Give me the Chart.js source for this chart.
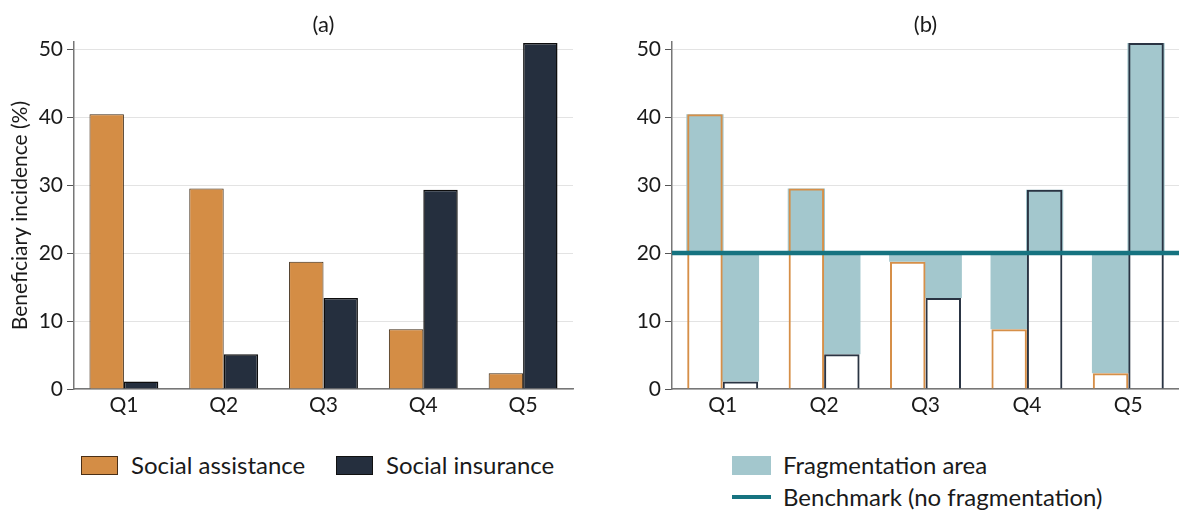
<!DOCTYPE html>
<html>
<head>
<meta charset="utf-8">
<script src="https://cdn.jsdelivr.net/npm/chart.js@4/dist/chart.umd.min.js"></script>
<style>
  html, body { margin: 0; padding: 0; background: #fff; }
  body { width: 1179px; height: 510px; position: relative; overflow: hidden;
         font-family: Lato, "Noto Sans", sans-serif; color: #1a1a1a; }
  #wrapA { position: absolute; left: 0; top: 0; width: 590px; height: 430px; }
  #wrapB { position: absolute; left: 600px; top: 0; width: 579px; height: 430px; }
  .legend { position: absolute; font-size: 24px; line-height: 1; }
  .item { position: absolute; white-space: nowrap; display: flex; align-items: center; }
  .swatch { width: 37px; height: 19px; box-sizing: border-box; margin-right: 13px; }
  .line { width: 39px; height: 4px; margin-right: 12px; }
</style>
</head>
<body>
<div id="wrapA"><canvas id="chartA" width="590" height="430"></canvas></div>
<div id="wrapB"><canvas id="chartB" width="579" height="430"></canvas></div>

<div class="legend" id="legendA">
  <div class="item" style="left:81px; top:453px;">
    <span class="swatch" style="background:#d48d45; border:1px solid #4a2f16;"></span>Social assistance
  </div>
  <div class="item" style="left:336px; top:453px;">
    <span class="swatch" style="background:#252f3e; border:1px solid #111;"></span>Social insurance
  </div>
</div>
<div class="legend" id="legendB">
  <div class="item" style="left:732px; top:453px;">
    <span class="swatch" style="background:#a3c7cd; width:39px; margin-right:12px;"></span>Fragmentation area
  </div>
  <div class="item" style="left:732px; top:485px;">
    <span class="line" style="background:#167380;"></span>Benchmark (no fragmentation)
  </div>
</div>

<script>
// Income quintiles and beneficiary incidence (%) by programme type
const quintiles = ['Q1', 'Q2', 'Q3', 'Q4', 'Q5'];
const socialAssistance = [40.4, 29.5, 18.7, 8.8, 2.3];
const socialInsurance = [1.1, 5.1, 13.4, 29.3, 50.9];
const benchmark = 20;
const yTicks = [0, 10, 20, 30, 40, 50];
const yMax = 51;

const FONT = 'Lato, "Noto Sans", sans-serif';
const ORANGE = '#d48d45';
const NAVY = '#252f3e';
const TEAL_LIGHT = '#a3c7cd';
const TEAL = '#167380';

Chart.defaults.font.family = FONT;
Chart.defaults.color = '#1a1a1a';

// Gap between a quintile's value and the no-fragmentation benchmark
const gap = values => values.map(v => [Math.min(v, benchmark), Math.max(v, benchmark)]);

function yScale(width) {
  return {
    min: 0, max: yMax, stacked: false,
    afterBuildTicks: s => { s.ticks = yTicks.map(v => ({ value: v })); },
    afterFit: s => { s.width = width; },
    grid: { color: '#e3e3e3', lineWidth: 1, tickColor: '#555', tickLength: 7 },
    border: { color: '#777', width: 1.5 },
    ticks: { font: { size: 21 }, color: '#1a1a1a', padding: 4 }
  };
}

function xScale(stacked) {
  return {
    stacked: stacked,
    afterFit: s => { s.height = 41; },
    grid: { display: false, drawTicks: false },
    border: { color: '#777', width: 1.5 },
    ticks: { font: { size: 21 }, color: '#1a1a1a', padding: 4 }
  };
}

function titleOpts(text) {
  return {
    display: true, text: text, fullSize: false,
    font: { size: 22, weight: 'normal' }, color: '#1a1a1a',
    padding: { top: 12, bottom: 3.8 }
  };
}

// Panel (a): grouped bars
const yA = yScale(74);
yA.title = { display: true, text: 'Beneficiary incidence (%)', font: { size: 21 },
             color: '#1a1a1a', padding: { top: 8, bottom: 0 } };

new Chart(document.getElementById('chartA'), {
  type: 'bar',
  data: {
    labels: quintiles,
    datasets: [
      { label: 'Social assistance', data: socialAssistance, backgroundColor: ORANGE,
        borderColor: '#3d2a15', borderWidth: 1 },
      { label: 'Social insurance', data: socialInsurance, backgroundColor: NAVY,
        borderColor: '#0d0d0d', borderWidth: 1.5 }
    ]
  },
  options: {
    responsive: false, animation: false,
    layout: { padding: { left: 0, right: 17, top: 0, bottom: 0 } },
    datasets: { bar: { categoryPercentage: 0.69, barPercentage: 1 } },
    scales: { x: xScale(false), y: yA },
    plugins: { legend: { display: false }, tooltip: { enabled: false }, title: titleOpts('(a)') }
  }
});

// Panel (b): outlined bars over the fragmentation gap, with benchmark line
const benchmarkLine = {
  id: 'benchmarkLine',
  afterDatasetsDraw(chart) {
    const { ctx, chartArea, scales } = chart;
    const y = scales.y.getPixelForValue(benchmark);
    ctx.save();
    ctx.strokeStyle = TEAL;
    ctx.lineWidth = 4.5;
    ctx.beginPath();
    ctx.moveTo(chartArea.left, y);
    ctx.lineTo(chartArea.right, y);
    ctx.stroke();
    ctx.restore();
  }
};

new Chart(document.getElementById('chartB'), {
  type: 'bar',
  data: {
    labels: quintiles,
    datasets: [
      { label: 'Social assistance', data: socialAssistance, stack: 'sa', order: 0,
        backgroundColor: 'rgba(0,0,0,0)', borderColor: '#d68f48', borderWidth: 2,
        barPercentage: 1 },
      { label: 'Social insurance', data: socialInsurance, stack: 'si', order: 0,
        backgroundColor: 'rgba(0,0,0,0)', borderColor: '#2a3443', borderWidth: 2,
        barPercentage: 1 },
      { label: 'Fragmentation area', data: gap(socialAssistance), stack: 'sa', order: 1,
        backgroundColor: TEAL_LIGHT, borderWidth: 0, barPercentage: 1.05 },
      { label: 'Fragmentation area', data: gap(socialInsurance), stack: 'si', order: 1,
        backgroundColor: TEAL_LIGHT, borderWidth: 0, barPercentage: 1.05 }
    ]
  },
  options: {
    responsive: false, animation: false,
    layout: { padding: { left: 0, right: 0, top: 0, bottom: 0 } },
    datasets: { bar: { categoryPercentage: 0.70 } },
    scales: { x: xScale(true), y: yScale(72) },
    plugins: { legend: { display: false }, tooltip: { enabled: false }, title: titleOpts('(b)') }
  },
  plugins: [benchmarkLine]
});
</script>
</body>
</html>
